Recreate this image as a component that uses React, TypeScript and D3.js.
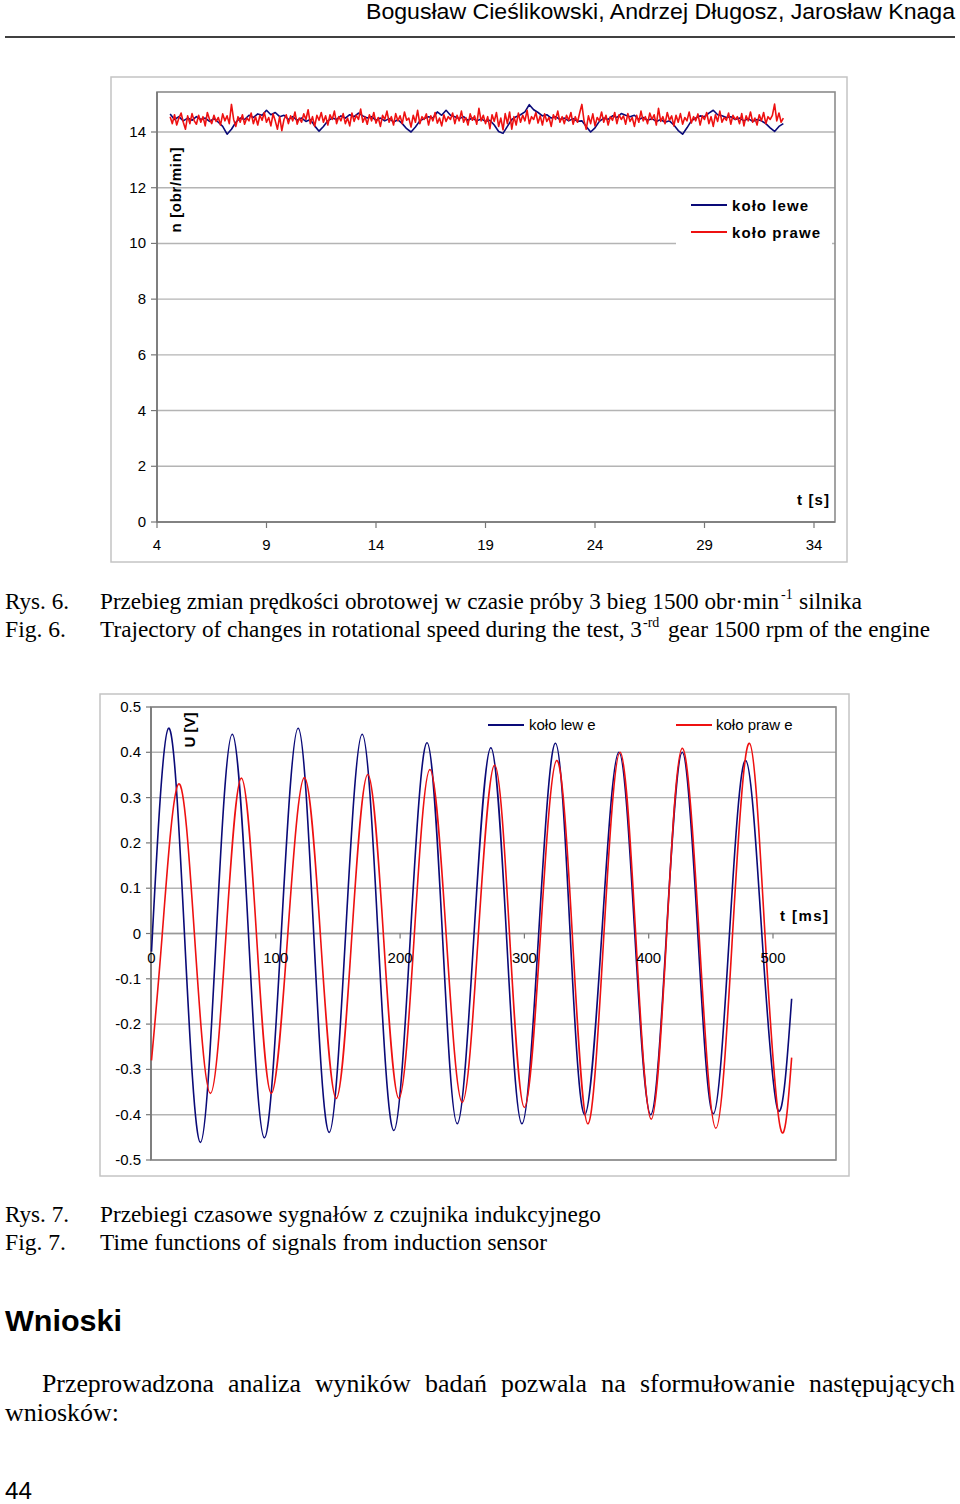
import React from 'react';
import * as d3 from 'd3';

// ---------- Fig. 6 data: rotational speed n [obr/min] vs t [s] ----------
const SPEED_T0 = 4.6;
const SPEED_STEP_LEFT = 0.2;
const SPEED_STEP_RIGHT = 0.1;
const speedLeft = [
  14.65, 14.45, 14.55, 14.4, 14.5, 14.42, 14.55, 14.45, 14.5, 14.38,
  14.48, 14.35, 14.2, 13.92, 14.1, 14.35, 14.5, 14.45, 14.6, 14.52,
  14.65, 14.6, 14.78, 14.62, 14.7, 14.55, 14.6, 14.45, 14.55, 14.42,
  14.5, 14.38, 14.45, 14.22, 14.03, 14.2, 14.4, 14.5, 14.45, 14.58,
  14.5, 14.62, 14.55, 14.68, 14.58, 14.5, 14.55, 14.42, 14.5, 14.4,
  14.48, 14.36, 14.44, 14.3, 14.12, 14.0, 14.18, 14.4, 14.48, 14.55,
  14.5, 14.72, 14.6, 14.78, 14.6, 14.55, 14.48, 14.55, 14.42, 14.5,
  14.4, 14.47, 14.38, 14.42, 14.25, 14.02, 13.95, 14.2, 14.45, 14.55,
  14.62, 14.72, 14.98, 14.8, 14.7, 14.58, 14.62, 14.5, 14.55, 14.45,
  14.5, 14.4, 14.48, 14.38, 14.4, 14.2, 14.0, 14.15, 14.38, 14.5,
  14.45, 14.58, 14.52, 14.66, 14.6, 14.55, 14.6, 14.45, 14.52, 14.42,
  14.48, 14.38, 14.45, 14.35, 14.4, 14.25, 14.05, 13.92, 14.15, 14.4,
  14.5, 14.58, 14.55, 14.68, 14.78, 14.62, 14.58, 14.52, 14.55, 14.45,
  14.5, 14.4, 14.48, 14.38, 14.45, 14.4, 14.3, 14.15, 14.02, 14.2,
  14.3,
];
const speedRight = [
  14.55, 14.3, 14.62, 14.25, 14.5, 14.68, 14.35, 14.1, 14.58, 14.3,
  14.66, 14.4, 14.28, 14.6, 14.35, 14.55, 14.22, 14.7, 14.45, 14.3,
  14.6, 14.38, 14.52, 14.25, 14.65, 14.4, 14.58, 14.3, 14.99, 14.45,
  14.2, 14.55, 14.35, 14.62, 14.28, 14.5, 14.4, 14.68, 14.3, 14.55,
  14.25, 14.6, 14.42, 14.7, 14.35, 14.52, 14.22, 14.65, 14.4, 14.1,
  14.55, 14.05, 14.45, 14.62, 14.3, 14.58, 14.4, 14.72, 14.28, 14.5,
  14.35, 14.65, 14.45, 14.8, 14.3, 14.55, 14.2, 14.6, 14.42, 14.7,
  14.35, 14.58, 14.25, 14.62, 14.45, 14.75, 14.3, 14.55, 14.4, 14.66,
  14.3, 14.5, 14.22, 14.68, 14.38, 14.6, 14.45, 14.82, 14.35, 14.55,
  14.28, 14.62, 14.4, 14.7, 14.32, 14.52, 14.2, 14.6, 14.45, 14.75,
  14.35, 14.55, 14.25, 14.66, 14.4, 14.58, 14.3, 14.72, 14.42, 14.5,
  14.18, 14.6, 14.35, 14.78, 14.3, 14.55, 14.45, 14.65, 14.25, 14.58,
  14.4, 14.7, 14.32, 14.5, 14.22, 14.62, 14.38, 14.55, 14.45, 14.68,
  14.3, 14.6, 14.4, 14.75, 14.35, 14.52, 14.25, 14.65, 14.42, 14.58,
  14.28, 14.85, 14.4, 14.6, 14.3, 14.55, 14.12, 14.62, 14.38, 14.7,
  14.2, 14.5, 14.08, 14.66, 14.3, 14.72, 14.1, 14.55, 14.25, 14.68,
  14.35, 14.6, 14.4, 14.78, 14.3, 14.55, 14.45, 14.7, 14.32, 14.58,
  14.25, 14.65, 14.38, 14.52, 14.2, 14.62, 14.45, 14.75, 14.35, 14.55,
  14.3, 14.6, 14.42, 14.7, 14.28, 14.55, 14.35, 14.68, 14.99, 14.4,
  14.1, 14.58, 14.3, 14.65, 14.22, 14.52, 14.4, 14.72, 14.35, 14.6,
  14.25, 14.55, 14.42, 14.7, 14.3, 14.62, 14.45, 14.58, 14.28, 14.66,
  14.38, 14.52, 14.2, 14.6, 14.35, 14.75, 14.4, 14.55, 14.3, 14.68,
  14.45, 14.62, 14.25, 14.85, 14.38, 14.55, 14.3, 14.7, 14.42, 14.58,
  14.22, 14.6, 14.35, 14.66, 14.28, 14.52, 14.4, 14.72, 14.32, 14.55,
  14.4, 14.65, 14.25, 14.58, 14.45, 14.7, 14.3, 14.55, 14.2, 14.62,
  14.38, 14.75, 14.35, 14.52, 14.42, 14.68, 14.28, 14.6, 14.45, 14.55,
  14.3, 14.66, 14.22, 14.58, 14.4, 14.72, 14.35, 14.5, 14.25, 14.62,
  14.4, 14.7, 14.3, 14.55, 14.45, 14.6, 15.0, 14.4, 14.68, 14.35,
  14.5,
];
const speedXTicks = [4, 9, 14, 19, 24, 29, 34];
const speedYTicks = [0, 2, 4, 6, 8, 10, 12, 14];

// ---------- Fig. 7 data: induction sensor U [V] vs t [ms] ----------
const voltLeftT = [0, 13.7, 26.5, 39.4, 52.2, 65, 78, 90.8, 104.4, 118, 130.5, 143, 156.2, 169.5, 182.2, 195, 208.4, 221.7, 234, 246, 259.5, 273, 285.5, 298, 311.5, 325, 336.8, 348.6, 362.3, 376, 388.8, 401.6, 414.3, 427, 439.5, 452, 465, 478, 491, 504, 515];
const voltLeftU = [-0.04, 0.453, 0, -0.461, 0, 0.44, 0, -0.451, 0, 0.453, 0, -0.439, 0, 0.44, 0, -0.435, 0, 0.421, 0, -0.42, 0, 0.41, 0, -0.42, 0, 0.42, 0, -0.4, 0, 0.4, 0, -0.4, 0, 0.4, 0, -0.398, 0, 0.382, 0, -0.39, -0.144];
const voltRightT = [0, 8.7, 21.7, 34.5, 47.4, 60, 72.3, 84.4, 96.4, 109.7, 123, 135.8, 148.6, 161.3, 174, 186.5, 199, 211.5, 224, 237, 250, 263, 276, 288, 300, 313, 326, 338.5, 351, 364, 377, 389.5, 402, 414.5, 427, 440.5, 454, 467.5, 481, 493.5, 506, 515];
const voltRightU = [-0.28, 0, 0.33, 0, -0.353, 0, 0.343, 0, -0.353, 0, 0.344, 0, -0.364, 0, 0.351, 0, -0.364, 0, 0.362, 0, -0.373, 0, 0.372, 0, -0.384, 0, 0.382, 0, -0.42, 0, 0.4, 0, -0.41, 0, 0.409, 0, -0.43, 0, 0.42, 0, -0.43, -0.274];
const voltXTicks = [0, 100, 200, 300, 400, 500];
const voltYTicks = [0.5, 0.4, 0.3, 0.2, 0.1, 0, -0.1, -0.2, -0.3, -0.4, -0.5];
const voltYLabels = ['0.5', '0.4', '0.3', '0.2', '0.1', '0', '-0.1', '-0.2', '-0.3', '-0.4', '-0.5'];

const SANS = "'Liberation Sans', Arial, sans-serif";
const SERIF = "'Liberation Serif', 'Times New Roman', serif";
const BLUE = '#0a0a78';
const RED = '#ee1111';
const GRID = '#b4b4b4';
const FRAME = '#8c8c8c';

type P = { t: number; v: number };

function SpeedChart() {
  const x = d3.scaleLinear().domain([4, 34]).range([157, 814]);
  const y = d3.scaleLinear().domain([0, 14]).range([522, 132]);
  const L = 157, R = 835, T = 92, B = 522;
  const line = d3.line<P>().x(d => x(d.t)).y(d => y(d.v));
  const left: P[] = speedLeft.map((v, i) => ({ t: SPEED_T0 + i * SPEED_STEP_LEFT, v }));
  const right: P[] = speedRight.map((v, i) => ({ t: SPEED_T0 + i * SPEED_STEP_RIGHT, v }));
  return (
    <g fontFamily={SANS}>
      <rect x={111} y={77} width={736} height={485} fill="#fff" stroke="#c4c4c4" strokeWidth={1.5} />
      {speedYTicks.filter(v => v > 0).map(v => (
        <line key={'g' + v} x1={L} x2={R} y1={y(v)} y2={y(v)} stroke={GRID} strokeWidth={1.4} />
      ))}
      <rect x={L} y={T} width={R - L} height={B - T} fill="none" stroke={FRAME} strokeWidth={1.6} />
      <line x1={L} x2={L} y1={T} y2={B} stroke="#777" strokeWidth={1.6} />
      <line x1={L} x2={R} y1={B} y2={B} stroke="#777" strokeWidth={1.6} />
      {speedYTicks.map(v => (
        <g key={'y' + v}>
          <line x1={L - 6} x2={L} y1={y(v)} y2={y(v)} stroke="#777" strokeWidth={1.2} />
          <text x={146} y={y(v) + 5} textAnchor="end" fontSize={15}>{v}</text>
        </g>
      ))}
      {speedXTicks.map(v => (
        <g key={'x' + v}>
          <line x1={x(v)} x2={x(v)} y1={B} y2={B + 6} stroke="#777" strokeWidth={1.2} />
          <text x={x(v)} y={550} textAnchor="middle" fontSize={15}>{v}</text>
        </g>
      ))}
      <path d={line(left) || ''} fill="none" stroke={BLUE} strokeWidth={1.6} strokeLinejoin="round" />
      <path d={line(right) || ''} fill="none" stroke={RED} strokeWidth={1.6} strokeLinejoin="round" />
      <rect x={676} y={192} width={156} height={55} fill="#fff" />
      <line x1={691} x2={727} y1={205} y2={205} stroke={BLUE} strokeWidth={2} />
      <line x1={691} x2={727} y1={232} y2={232} stroke={RED} strokeWidth={2} />
      <text x={732} y={210.5} fontSize={15} fontWeight="bold" textLength={76} lengthAdjust="spacing">koło lewe</text>
      <text x={732} y={237.5} fontSize={15} fontWeight="bold" textLength={88} lengthAdjust="spacing">koło prawe</text>
      <text transform="translate(181,190) rotate(-90)" textAnchor="middle" fontSize={15} fontWeight="bold" textLength={85} lengthAdjust="spacing">n [obr/min]</text>
      <text x={797} y={505} fontSize={15} fontWeight="bold" textLength={32} lengthAdjust="spacing">t [s]</text>
    </g>
  );
}

function VoltChart() {
  const x = d3.scaleLinear().domain([0, 500]).range([151.5, 773]);
  const y = d3.scaleLinear().domain([-0.5, 0.5]).range([1160, 707]);
  const L = 151, R = 836, T = 707, B = 1160;
  const line = d3.line<P>().x(d => x(d.t)).y(d => y(d.v)).curve(d3.curveNatural);
  const left: P[] = voltLeftT.map((t, i) => ({ t, v: voltLeftU[i] }));
  const right: P[] = voltRightT.map((t, i) => ({ t, v: voltRightU[i] }));
  return (
    <g fontFamily={SANS}>
      <rect x={100} y={694} width={749} height={482} fill="#fff" stroke="#c4c4c4" strokeWidth={1.5} />
      {voltYTicks.map(v => (
        <line key={'g' + v} x1={L} x2={R} y1={y(v)} y2={y(v)} stroke={GRID} strokeWidth={1.4} />
      ))}
      <rect x={L} y={T} width={R - L} height={B - T} fill="none" stroke={FRAME} strokeWidth={1.6} />
      <line x1={L} x2={L} y1={T} y2={B} stroke="#777" strokeWidth={1.6} />
      <line x1={L} x2={R} y1={y(0)} y2={y(0)} stroke="#999" strokeWidth={1.4} />
      {voltYTicks.map((v, i) => (
        <g key={'y' + v}>
          <line x1={L - 5} x2={L} y1={y(v)} y2={y(v)} stroke="#777" strokeWidth={1.2} />
          <text x={141} y={y(v) + 5} textAnchor="end" fontSize={15}>{voltYLabels[i]}</text>
        </g>
      ))}
      {voltXTicks.map(v => (
        <line key={'xt' + v} x1={x(v)} x2={x(v)} y1={y(0)} y2={y(0) + 5} stroke="#777" strokeWidth={1.2} />
      ))}
      <path d={line(left) || ''} fill="none" stroke={BLUE} strokeWidth={1.6} strokeLinejoin="round" />
      <path d={line(right) || ''} fill="none" stroke={RED} strokeWidth={1.6} strokeLinejoin="round" />
      {voltXTicks.map(v => (
        <text key={'xl' + v} x={x(v)} y={963} textAnchor="middle" fontSize={15}>{v}</text>
      ))}
      <line x1={488} x2={524} y1={725} y2={725} stroke={BLUE} strokeWidth={2} />
      <text x={529} y={730} fontSize={15}>koło lew e</text>
      <line x1={676} x2={712} y1={725} y2={725} stroke={RED} strokeWidth={2} />
      <text x={716} y={730} fontSize={15}>koło praw e</text>
      <text transform="translate(195,730) rotate(-90)" textAnchor="middle" fontSize={15} fontWeight="bold">U [V]</text>
      <text x={780} y={921} fontSize={15} fontWeight="bold" textLength={48} lengthAdjust="spacing">t [ms]</text>
    </g>
  );
}

export default function App() {
  return (
    <svg width={960} height={1504} viewBox="0 0 960 1504"
      style={{ position: 'absolute', left: 0, top: 0, background: '#fff' }}>
      <rect x={0} y={0} width={960} height={1504} fill="#fff" />
      <text x={366} y={19} fontFamily={SANS} fontSize={22} textLength={589} lengthAdjust="spacingAndGlyphs">Bogusław Cieślikowski, Andrzej Długosz, Jarosław Knaga</text>
      <line x1={5} x2={955} y1={37} y2={37} stroke="#000" strokeWidth={1.6} />

      <SpeedChart />

      <g fontFamily={SERIF} fontSize={23}>
        <text x={5} y={609} textLength={64} lengthAdjust="spacingAndGlyphs">Rys. 6.</text>
        <text x={100} y={609} textLength={679} lengthAdjust="spacingAndGlyphs">Przebieg zmian prędkości obrotowej w czasie próby 3 bieg 1500 obr·min</text>
        <text x={781} y={599} fontSize={14}>-1</text>
        <text x={799} y={609} textLength={63} lengthAdjust="spacingAndGlyphs">silnika</text>
        <text x={5} y={637} textLength={61} lengthAdjust="spacingAndGlyphs">Fig. 6.</text>
        <text x={100} y={637} textLength={542} lengthAdjust="spacingAndGlyphs">Trajectory of changes in rotational speed during the test, 3</text>
        <text x={643} y={627} fontSize={14}>-rd</text>
        <text x={668} y={637} textLength={262} lengthAdjust="spacingAndGlyphs">gear 1500 rpm of the engine</text>
      </g>

      <VoltChart />

      <g fontFamily={SERIF} fontSize={23}>
        <text x={5} y={1222} textLength={64} lengthAdjust="spacingAndGlyphs">Rys. 7.</text>
        <text x={100} y={1222} textLength={501} lengthAdjust="spacingAndGlyphs">Przebiegi czasowe sygnałów z czujnika indukcyjnego</text>
        <text x={5} y={1250} textLength={61} lengthAdjust="spacingAndGlyphs">Fig. 7.</text>
        <text x={100} y={1250} textLength={447} lengthAdjust="spacingAndGlyphs">Time functions of signals from induction sensor</text>
      </g>

      <text x={5} y={1331} fontFamily={SANS} fontSize={30} fontWeight="bold" textLength={117} lengthAdjust="spacingAndGlyphs">Wnioski</text>

      <g fontFamily={SERIF} fontSize={25}>
        <text x={42} y={1392} textLength={172} lengthAdjust="spacingAndGlyphs">Przeprowadzona</text>
        <text x={228} y={1392} textLength={73} lengthAdjust="spacingAndGlyphs">analiza</text>
        <text x={315} y={1392} textLength={96} lengthAdjust="spacingAndGlyphs">wyników</text>
        <text x={425} y={1392} textLength={62} lengthAdjust="spacingAndGlyphs">badań</text>
        <text x={501} y={1392} textLength={86} lengthAdjust="spacingAndGlyphs">pozwala</text>
        <text x={601} y={1392} textLength={25} lengthAdjust="spacingAndGlyphs">na</text>
        <text x={640} y={1392} textLength={155} lengthAdjust="spacingAndGlyphs">sformułowanie</text>
        <text x={809} y={1392} textLength={146} lengthAdjust="spacingAndGlyphs">następujących</text>
        <text x={5} y={1421} textLength={114} lengthAdjust="spacingAndGlyphs">wniosków:</text>
      </g>

      <text x={5} y={1499} fontFamily={SANS} fontSize={24} textLength={27} lengthAdjust="spacingAndGlyphs">44</text>
    </svg>
  );
}
